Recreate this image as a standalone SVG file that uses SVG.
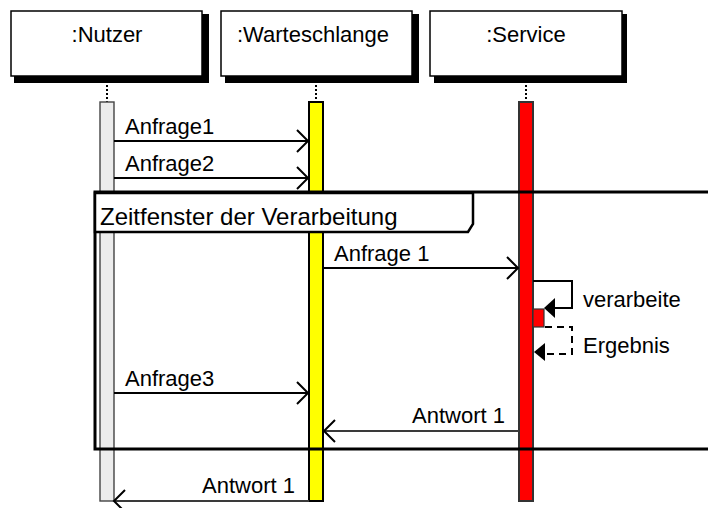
<svg xmlns="http://www.w3.org/2000/svg" width="708" height="508" viewBox="0 0 708 508">
  <style>
    text { font-family: "Liberation Sans", Arial, sans-serif; font-size: 22px; fill: #000; }
    .head { fill: #fff; stroke: #000; stroke-width: 1.5; }
    .shadow { fill: #000; }
    .life { stroke: #000; stroke-width: 2; stroke-dasharray: 2 2; }
    .msg { fill: none; stroke: #000; stroke-width: 2; }
    .reply { fill: none; stroke: #3a3a3a; stroke-width: 1.8; }
    .dash { fill: none; stroke: #000; stroke-width: 2; stroke-dasharray: 7 5; }
    .open { fill: none; stroke: #000; stroke-width: 2; }
    .solid { fill: #000; stroke: none; }
    .frame { fill: none; stroke: #000; stroke-width: 3; }
    .tab { fill: #fff; stroke: #000; stroke-width: 2.5; }
  </style>

  <!-- lifeline heads -->
  <g id="nutzer">
    <rect class="shadow" x="14" y="14" width="195" height="69"/>
    <rect class="head" x="11" y="11" width="191" height="65"/>
    <text x="107" y="42" text-anchor="middle">:Nutzer</text>
    <line class="life" x1="107" y1="77" x2="107" y2="102"/>
    <rect x="100" y="102" width="14" height="399" fill="#ececec" stroke="#444" stroke-width="1.4"/>
  </g>
  <g id="warteschlange">
    <rect class="shadow" x="225" y="14" width="194" height="69"/>
    <rect class="head" x="221" y="11" width="191" height="65"/>
    <text x="313" y="42" text-anchor="middle">:Warteschlange</text>
    <line class="life" x1="316" y1="77" x2="316" y2="102"/>
    <rect x="309" y="102" width="14" height="399" fill="#ffff00" stroke="#000" stroke-width="2"/>
  </g>
  <g id="service">
    <rect class="shadow" x="434" y="14" width="193" height="69"/>
    <rect class="head" x="430" y="11" width="192" height="65"/>
    <text x="526" y="42" text-anchor="middle">:Service</text>
    <line class="life" x1="526" y1="77" x2="526" y2="102"/>
    <rect x="519" y="102" width="14" height="399" fill="#ff0000" stroke="#333" stroke-width="2"/>
    <rect x="533" y="309" width="11" height="18" fill="#ff0000" stroke="#333" stroke-width="1.2"/>
  </g>

  <!-- combined fragment -->
  <g id="zeitfenster">
    <path class="frame" d="M 720 192 H 95 V 449 H 720"/>
    <path class="tab" d="M 95 193 H 473 V 224 L 468 232 H 95 Z"/>
    <text x="100" y="225" style="font-size:24px">Zeitfenster der Verarbeitung</text>
  </g>

  <!-- messages -->
  <g id="connectors">
    <line class="msg" x1="114" y1="141" x2="308" y2="141"/>
    <polyline class="open" points="297,130 308,141 297,152"/>
    <text x="125" y="134">Anfrage1</text>

    <line class="msg" x1="114" y1="178" x2="308" y2="178"/>
    <polyline class="open" points="297,167 308,178 297,189"/>
    <text x="125" y="171">Anfrage2</text>

    <line class="msg" x1="323" y1="268" x2="518" y2="268"/>
    <polyline class="open" points="507,257 518,268 507,279"/>
    <text x="334" y="261">Anfrage 1</text>

    <path class="msg" d="M 533 281 H 572 V 308 H 554"/>
    <polygon class="solid" points="544,308 555,298 555,318"/>
    <text x="583" y="307">verarbeite</text>

    <path class="dash" d="M 545 327 H 572 V 354 H 545"/>
    <polygon class="solid" points="534,352 545,343 545,361"/>
    <text x="583" y="353">Ergebnis</text>

    <line class="msg" x1="114" y1="393" x2="308" y2="393"/>
    <polyline class="open" points="297,382 308,393 297,404"/>
    <text x="125" y="386">Anfrage3</text>

    <line class="reply" x1="519" y1="431" x2="324" y2="431"/>
    <polyline class="open" points="335,420 324,431 335,442"/>
    <text x="505" y="423" text-anchor="end">Antwort 1</text>

    <line class="reply" x1="309" y1="501" x2="114" y2="501"/>
    <polyline class="open" points="125,490 114,501 125,512"/>
    <text x="295" y="493" text-anchor="end">Antwort 1</text>
  </g>
</svg>
